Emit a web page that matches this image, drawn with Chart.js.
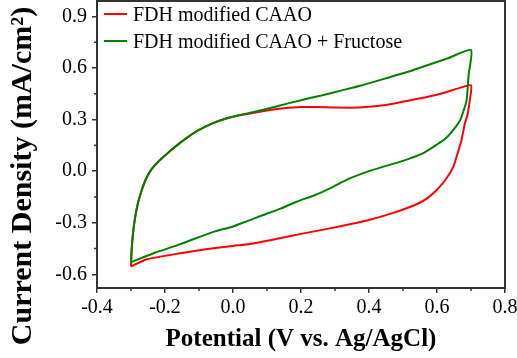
<!DOCTYPE html>
<html>
<head>
<meta charset="utf-8">
<script src="https://cdn.jsdelivr.net/npm/chart.js@4.4.1/dist/chart.umd.min.js"></script>
<style>
  html, body { margin: 0; padding: 0; background: #fff; }
  #wrap { width: 517px; height: 358px; }
</style>
</head>
<body>
<div id="wrap"><canvas id="cv"></canvas></div>
<script>
// Potential (V) and current density (mA/cm2), scan -0.3 V -> 0.7 V -> -0.3 V
const plainV = [-0.300, -0.298, -0.294, -0.288, -0.280, -0.270, -0.257, -0.240, -0.220, -0.195, -0.165, -0.135, -0.100, -0.060,
  -0.020, 0.020, 0.070, 0.130, 0.200, 0.250, 0.300, 0.370, 0.450, 0.515, 0.600, 0.660, 0.700,
  0.697, 0.690, 0.682, 0.672, 0.660, 0.648, 0.625, 0.599, 0.570, 0.535, 0.467, 0.400, 0.340, 0.285, 0.200, 0.138, 0.050,
  0.000, -0.080, -0.155, -0.253, -0.300];
const plainI = [-0.555, -0.460, -0.360, -0.270, -0.190, -0.120, -0.050, 0.010, 0.055, 0.100, 0.150, 0.195, 0.240, 0.278,
  0.306, 0.325, 0.342, 0.362, 0.373, 0.373, 0.370, 0.370, 0.385, 0.410, 0.445, 0.480, 0.500,
  0.420, 0.330, 0.277, 0.180, 0.100, 0.025, -0.050, -0.110, -0.160, -0.197, -0.246, -0.284, -0.310, -0.333, -0.365, -0.390, -0.424,
  -0.435, -0.455, -0.478, -0.513, -0.555];

const fructoseV = [-0.300, -0.298, -0.294, -0.288, -0.280, -0.270, -0.257, -0.240, -0.220, -0.195, -0.165, -0.135, -0.100, -0.060,
  -0.020, 0.020, 0.070, 0.130, 0.200, 0.260, 0.320, 0.380, 0.450, 0.510, 0.565, 0.630, 0.700,
  0.693, 0.687, 0.678, 0.668, 0.650, 0.625, 0.600, 0.560, 0.500, 0.440, 0.400, 0.340, 0.285, 0.240, 0.187, 0.140, 0.089,
  0.040, 0.000, -0.060, -0.155, -0.230, -0.300];
const fructoseI = [-0.530, -0.450, -0.360, -0.270, -0.190, -0.120, -0.050, 0.010, 0.055, 0.100, 0.150, 0.195, 0.240, 0.278,
  0.306, 0.327, 0.348, 0.378, 0.413, 0.440, 0.470, 0.500, 0.540, 0.575, 0.612, 0.655, 0.705,
  0.560, 0.412, 0.350, 0.296, 0.245, 0.190, 0.155, 0.105, 0.060, 0.025, 0.000, -0.045, -0.100, -0.140, -0.178, -0.218, -0.255,
  -0.292, -0.322, -0.355, -0.425, -0.475, -0.530];

const seriesNames = ['FDH modified CAAO', 'FDH modified CAAO + Fructose'];
const xTicks = [-0.4, -0.2, 0.0, 0.2, 0.4, 0.6, 0.8];
const yTicks = [-0.6, -0.3, 0.0, 0.3, 0.6, 0.9];
const xMinor = [-0.3, -0.1, 0.1, 0.3, 0.5, 0.7];
const yMinor = [-0.45, -0.15, 0.15, 0.45, 0.75];

const serif = "'Liberation Serif', 'Times New Roman', serif";
const axisColor = '#333';

function points(vs, is) {
  return vs.map((v, k) => ({ x: v, y: is[k] }));
}

// frame, minor ticks, titles and legend
const decor = {
  id: 'decor',
  afterDraw(chart) {
    const ctx = chart.ctx;
    const a = chart.chartArea;
    const xs = chart.scales.x, ys = chart.scales.y;
    ctx.save();
    ctx.strokeStyle = axisColor;
    ctx.lineWidth = 1.5;
    xMinor.forEach(v => {
      const px = xs.getPixelForValue(v);
      ctx.beginPath(); ctx.moveTo(px, a.bottom); ctx.lineTo(px, a.bottom + 3); ctx.stroke();
    });
    yMinor.forEach(v => {
      const py = ys.getPixelForValue(v);
      ctx.beginPath(); ctx.moveTo(a.left, py); ctx.lineTo(a.left - 3, py); ctx.stroke();
    });
    ctx.lineWidth = 2;
    ctx.strokeRect(a.left, a.top, a.right - a.left, a.bottom - a.top);

    // axis titles
    ctx.fillStyle = '#000';
    ctx.font = 'bold 25px ' + serif;
    ctx.textAlign = 'center';
    ctx.textBaseline = 'alphabetic';
    ctx.fillText('Potential (V vs. Ag/AgCl)', (a.left + a.right) / 2, 346);
    ctx.save();
    ctx.translate(31, 176);
    ctx.rotate(-Math.PI / 2);
    ctx.font = 'bold 30px ' + serif;
    ctx.fillText('Current Density (mA/cm\u00B2)', 0, 0);
    ctx.restore();

    // legend
    ctx.font = '20px ' + serif;
    ctx.textAlign = 'left';
    chart.data.datasets.forEach((ds, k) => {
      const y = 14 + k * 27;
      ctx.strokeStyle = ds.borderColor;
      ctx.lineWidth = 2;
      ctx.beginPath(); ctx.moveTo(104, y); ctx.lineTo(127, y); ctx.stroke();
      ctx.fillStyle = '#000';
      ctx.fillText(ds.label, 133, y + 7);
    });
    ctx.restore();
  }
};

new Chart(document.getElementById('cv'), {
  type: 'scatter',
  data: {
    datasets: [{
      label: seriesNames[0],
      data: points(plainV, plainI),
      borderColor: '#ff0000',
      order: 1
    }, {
      label: seriesNames[1],
      data: points(fructoseV, fructoseI),
      borderColor: '#008000',
      order: 0
    }]
  },
  options: {
    responsive: true,
    maintainAspectRatio: false,
    animation: false,
    showLine: true,
    elements: {
      point: { radius: 0 },
      line: { borderWidth: 2, tension: 0.2, fill: false }
    },
    layout: { padding: { top: 1, right: 12, left: 0, bottom: 0 } },
    plugins: { legend: { display: false }, tooltip: { enabled: false } },
    scales: {
      x: {
        type: 'linear',
        min: -0.4,
        max: 0.8,
        afterBuildTicks: s => { s.ticks = xTicks.map(v => ({ value: v })); },
        afterFit: s => { s.height = 70; s.paddingLeft = 0; s.paddingRight = 0; },
        grid: { drawOnChartArea: false, tickLength: 5, color: axisColor, lineWidth: 1.5 },
        border: { display: false },
        ticks: {
          padding: 3,
          color: '#000',
          maxRotation: 0,
          font: { family: serif, size: 20 },
          callback: v => v.toFixed(1)
        }
      },
      y: {
        type: 'linear',
        min: -0.68,
        max: 0.99,
        afterBuildTicks: s => { s.ticks = yTicks.map(v => ({ value: v })); },
        afterFit: s => { s.width = 97; s.paddingTop = 0; s.paddingBottom = 0; },
        grid: { drawOnChartArea: false, tickLength: 5, color: axisColor, lineWidth: 1.5 },
        border: { display: false },
        ticks: {
          padding: 5,
          color: '#000',
          font: { family: serif, size: 20 },
          callback: v => v.toFixed(1)
        }
      }
    }
  },
  plugins: [decor]
});
</script>
</body>
</html>
